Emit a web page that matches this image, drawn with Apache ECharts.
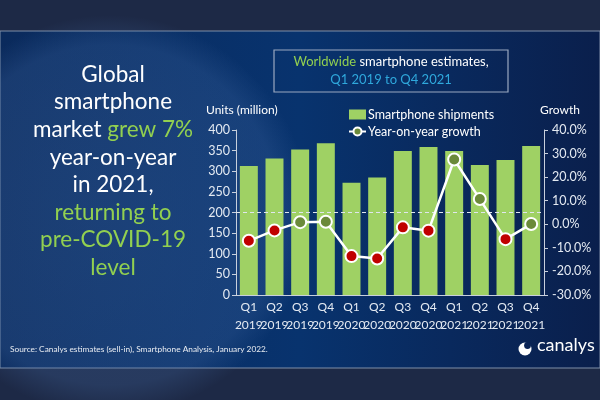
<!DOCTYPE html>
<html><head><meta charset="utf-8">
<script src="https://cdn.jsdelivr.net/npm/echarts@6/dist/echarts.min.js"></script>
<style>html,body{margin:0;padding:0;background:#1d2946}#c{width:600px;height:400px}</style>
</head><body><div id="c"></div>
<script>
var categories = ['Q1\n2019','Q2\n2019','Q3\n2019','Q4\n2019','Q1\n2020','Q2\n2020','Q3\n2020','Q4\n2020','Q1\n2021','Q2\n2021','Q3\n2021','Q4\n2021'];
var shipments = [313, 331, 353, 368, 272, 285, 349, 359, 349, 315, 327, 361];
var growth = [-7.0, -2.6, 0.9, 1.1, -13.5, -14.5, -1.3, -2.7, 27.5, 10.7, -6.3, 0.1];
var leftTicks = {min: 0, max: 400, interval: 50};
var rightTicks = {min: -30, max: 40, interval: 10};

var chart = echarts.init(document.getElementById('c'));
var F = 'Lato, "Open Sans", sans-serif';
var headline = [
  ['Global', ''], ['smartphone', ''], ['market ', 'grew 7%'], ['year-on-year', ''],
  ['in 2021,', ''], ['', 'returning to'], ['', 'pre-COVID-19'], ['', 'level']
];
var headlineEls = headline.map(function (l, i) {
  var s = '';
  if (l[0]) s += '{w|' + l[0] + '}';
  if (l[1]) s += '{g|' + l[1] + '}';
  return {type: 'text', z: 5, style: {x: 113, y: 63 + i * 27.6, text: s, align: 'center', verticalAlign: 'top',
    font: '22.5px ' + F,
    rich: {w: {fill: '#ffffff', fontSize: 22.5, fontFamily: 'Lato'}, g: {fill: '#92d050', fontSize: 22.5, fontFamily: 'Lato'}}}};
});

chart.setOption({
  backgroundColor: '#1d2946',
  animation: false,
  graphic: [
    {type: 'rect', z: -10, shape: {x: 0, y: 31, width: 600, height: 337},
     style: {fill: {type: 'linear', x: 0, y: 0, x2: 1, y2: 0, colorStops: [
       {offset: 0, color: '#0a2a5c'}, {offset: 0.5, color: '#08336e'}, {offset: 1, color: '#0a1f4c'}]},
       stroke: '#7f8fa8', lineWidth: 1}},
    {type: 'circle', z: -9, shape: {cx: 110, cy: 215, r: 200},
     style: {fill: {type: 'radial', x: 0.5, y: 0.5, r: 0.5, colorStops: [
       {offset: 0, color: 'rgba(70,110,170,0.30)'}, {offset: 0.85, color: 'rgba(70,110,170,0.25)'}, {offset: 1, color: 'rgba(70,110,170,0.0)'}]}}},
    {type: 'rect', z: -8, shape: {x: 274, y: 50, width: 234, height: 42},
     style: {fill: 'rgba(0,0,0,0)', stroke: '#9aa8c0', lineWidth: 1.2}},
    {type: 'text', z: 5, style: {x: 391, y: 55, align: 'center', verticalAlign: 'top',
       text: '{g|Worldwide}{w| smartphone estimates,}', font: '13px ' + F,
       rich: {g: {fill: '#92d050', fontSize: 13, fontFamily: 'Lato'}, w: {fill: '#ffffff', fontSize: 13, fontFamily: 'Lato'}}}},
    {type: 'text', z: 5, style: {x: 391, y: 73, align: 'center', verticalAlign: 'top',
       text: 'Q1 2019 to Q4 2021', fill: '#2fa8dc', font: '13px ' + F}},
    {type: 'text', z: 5, left: 10, top: 345,
     style: {text: 'Source: Canalys estimates (sell-in), Smartphone Analysis, January 2022.', fill: '#e8ecf2', font: '8.3px ' + F}},
    {type: 'text', z: 5, left: 537, top: 336,
     style: {text: 'canalys', fill: '#ffffff', font: '18px ' + F}},
    {type: 'circle', z: 5, shape: {cx: 525, cy: 349, r: 6.5}, style: {fill: '#ffffff'}},
    {type: 'circle', z: 6, shape: {cx: 527.5, cy: 345.5, r: 3.4}, style: {fill: '#0a2456'}}
  ].concat(headlineEls),
  grid: {left: 236, right: 56, top: 130, bottom: 105},
  legend: {
    orient: 'vertical', left: 343, top: 103, itemGap: 4, itemWidth: 17, itemHeight: 10,
    textStyle: {color: '#ffffff', fontSize: 12.5, fontFamily: 'Lato', padding: [0, 0, 0, -3]},
    data: [{name: 'Smartphone shipments', icon: 'rect'}, {name: 'Year-on-year growth'}]
  },
  xAxis: {
    type: 'category', data: categories,
    axisLine: {lineStyle: {color: '#c8d0dc', width: 1}},
    axisTick: {show: false},
    axisLabel: {color: '#e4eaf2', fontSize: 12, fontFamily: 'Lato', lineHeight: 18, margin: 3, interval: 0}
  },
  yAxis: [
    {type: 'value', min: leftTicks.min, max: leftTicks.max, interval: leftTicks.interval,
     name: 'Units (million)', nameLocation: 'end', nameGap: 14, nameTextStyle: {color: '#ffffff', fontSize: 12, fontFamily: 'Lato', align: 'left', padding: [0, 0, 0, -30]},
     axisLine: {show: true, lineStyle: {color: '#c8d0dc'}},
     axisTick: {show: true, length: 4, lineStyle: {color: '#c8d0dc'}},
     splitLine: {show: false},
     axisLabel: {color: '#e4eaf2', fontSize: 12.5, fontFamily: 'Lato', margin: 6}},
    {type: 'value', min: rightTicks.min, max: rightTicks.max, interval: rightTicks.interval,
     name: 'Growth', nameLocation: 'end', nameGap: 14, nameTextStyle: {color: '#ffffff', fontSize: 12, fontFamily: 'Lato', align: 'left', padding: [0, 0, 0, -4]},
     axisLine: {show: true, lineStyle: {color: '#c8d0dc'}},
     axisTick: {show: true, length: 4, lineStyle: {color: '#c8d0dc'}},
     splitLine: {show: false},
     axisLabel: {color: '#e4eaf2', fontSize: 12.5, fontFamily: 'Lato', margin: 8,
       formatter: function (v) { return v.toFixed(1) + '%'; }}}
  ],
  series: [
    {name: 'Smartphone shipments', type: 'bar', data: shipments, barWidth: '70%',
     itemStyle: {color: '#9fd164'},
     markLine: {silent: true, symbol: 'none', label: {show: false},
       lineStyle: {color: '#e0e6ee', type: [4, 3], width: 1},
       data: [{yAxis: 200}]}},
    {name: 'Year-on-year growth', type: 'line', yAxisIndex: 1,
     data: growth.map(function (v) { return {value: v, itemStyle: {color: v < 0 ? '#c00000' : '#6b8a3a'}}; }),
     symbol: 'circle', symbolSize: 12, lineStyle: {color: '#ffffff', width: 2.5},
     itemStyle: {color: '#6b8a3a', borderColor: '#ffffff', borderWidth: 2}, z: 5}
  ]
});
</script></body></html>
